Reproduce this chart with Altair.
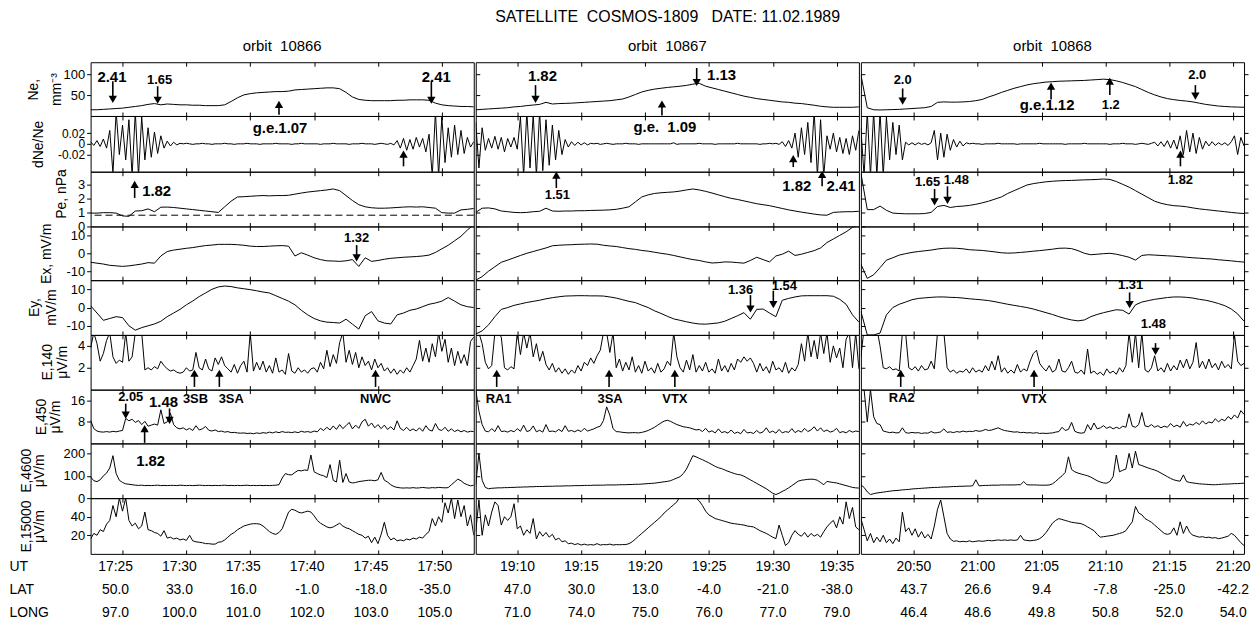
import altair as alt
import pandas as pd

FONT = "Liberation Sans"
NB = "\u00a0"

# ---------------- axes / labels ----------------
MAIN_TITLE = "SATELLITE" + NB + NB + "COSMOS-1809" + NB + NB + NB + "DATE: 11.02.1989"
ORBIT_TITLES = ["orbit" + NB + NB + "10866", "orbit" + NB + NB + "10867", "orbit" + NB + NB + "10868"]
T_START = [1042.5, 1146.73, 1250.85]     # minutes of day at left edge of each orbit window
SPAN = 30.0                               # minutes shown per orbit
TICK_MIN = [[1045, 1050, 1055, 1060, 1065, 1070],
            [1150, 1155, 1160, 1165, 1170, 1175],
            [1255, 1260, 1265, 1270, 1275, 1280]]
ROW_NAMES = ["UT", "LAT", "LONG"]
UT_LABELS = [["17:25", "17:30", "17:35", "17:40", "17:45", "17:50"],
             ["19:10", "19:15", "19:20", "19:25", "19:30", "19:35"],
             ["20:50", "21:00", "21:05", "21:10", "21:15", "21:20"]]
LAT_LABELS = [["50.0", "33.0", "16.0", "-1.0", "-18.0", "-35.0"],
              ["47.0", "30.0", "13.0", "-4.0", "-21.0", "-38.0"],
              ["43.7", "26.6", "9.4", "-7.8", "-25.0", "-42.2"]]
LONG_LABELS = [["97.0", "100.0", "101.0", "102.0", "103.0", "105.0"],
               ["71.0", "74.0", "75.0", "76.0", "77.0", "79.0"],
               ["46.4", "48.6", "49.8", "50.8", "52.0", "54.0"]]

# ---------------- series ----------------
NE_1 = [15,15,16,17,18,19,21,23,25,28, 30,27,29,28,27,27,26,26,25,25, 25,27,35,44,51,54,56,57,58,59,
        59,60,63,64,65,66,67,68,68,66, 57,46,40,38,37,37,37,37,38,38, 39,39,39,38,31,27,25,24,23,23, 22]
NE_2 = [15,16,17,18,19,20,22,23,25,26.5, 28,33,29,30,30.5,31,32,33,34,35, 36,37,39,41,46,52,58,62,65,67,
        69,70.5,72,74,77,79,72,68,64,60, 56,52,48,45,42,40,38,36,34,33, 31,30,28,26,23.5,22,21,21,21,21, 22]
NE_3 = [100,20,15,14.5,15,15.5,16,17,18,19, 20,23,33,34,33.5,33.5,34,35,37,40, 46,51,57,62,67,71,75,78,80,82,
        83,84,84.5,85,85.5,86,87,88,89,88, 85,81,76,71,64,57,51,46,42,39.5, 37.5,36,34,31,28,26,24,23,22,21.5, 21]

DNE_1 = [0.004,-0.003,0.006,-0.005,0.009,-0.008,
         0.025,-0.055,0.06,-0.02,0.035,-0.03,0.045,-0.06,0.06,-0.06,0.05,-0.03,0.03,-0.025,0.022,-0.018,
         0.015,-0.008,0.005,-0.004,0.003,-0.002,0.001,
         0,0.001,0,-0.001,0,0,0.001,0,0,-0.001, 0,0,0,0.001,0,0,-0.001,0,0,0,
         0.001,0,0,0,-0.001,0,0,0,0,0.001, 0,0,0,0,-0.001,0,0,0.001,0,0,
         0,0,0,-0.001,0,0,0,0.001,0,0, 0,0,-0.001,0,0,0,0.001,0,0,0, -0.001,0,0.001,0,-0.001,0.001,-0.002,
         0.006,-0.008,0.01,-0.012,0.008,-0.01,0.012,-0.006,0.01,-0.015,0.018,-0.06,0.06,-0.06,0.05,
         -0.035,0.03,-0.025,0.035,-0.02,0.025,-0.018,0.012,-0.006,0.004]
DNE_2 = [0.04,-0.045,0.03,
         -0.012,0.01,-0.008,0.014,-0.01,0.012,-0.015,0.01,-0.006,0.012,-0.01,
         0.05,-0.06,0.06,-0.045,0.055,-0.06,0.06,-0.05,0.045,-0.04,0.035,-0.03,0.025,-0.02,
         0.008,-0.006,0.004,-0.003,0.003,-0.002,0.002,-0.002,0.001,0,0.001,-0.001,0,0.001,0,-0.001,0,
         0,0,0.001,0,0,0,-0.001,0,0,0, 0,0,0,0,0,0,0,0.002,-0.001,0, 0,0,0,0,0,0.001,0,0,0,0,
         -0.001,0,0,0,0,0,0,0.001,0,0, 0,0,0,0,-0.001,0,0,0.001,0,0.001, -0.001,
         0.004,-0.005,0.006,-0.008,
         0.02,-0.025,0.03,-0.02,0.04,-0.035,0.06,-0.06,0.045,-0.06,
         0.015,-0.01,0.02,-0.015,0.012,-0.018,0.01,-0.02,0.015,-0.012,0.025]
DNE_3 = [0.03,-0.06,0.06,-0.06,0.06,-0.06,0.06,-0.06,0.05,
         -0.03,0.04,-0.02,0.035,-0.03,
         0.003,-0.002,0.002,-0.002,0.002,-0.001,0.001,-0.002,0.002,
         0.025,-0.03,0.02,-0.025,0.018,-0.012,
         0.008,-0.006,0.005,-0.004,0.002,
         0,0.001,0,0,-0.001,0,0,0,0,0.001, 0,0,0,0,0,-0.001,0,0,0,0, 0,0,0.001,0,0,0,0,0,0,0,
         -0.001,0,0,0,0,0,0.001,0,0,0, 0,0,0,0,-0.001,0,0,0,0.001,0, 0,0,-0.001,0,0.001,0,-0.001,0.001,
         0.003,-0.004,0.004,-0.005,0.006,-0.008,0.007,-0.01,
         0.015,-0.02,0.025,-0.015,0.02,-0.018,0.012,-0.01,
         0.005,-0.004,0.004,-0.003,0.002,-0.002,0.002,-0.003,0.004,
         0.015,-0.02,0.012,-0.004]

PE_1 = [0.95,0.95,0.98,0.98,0.95,0.75,0.72,1.1,1.12,1.25, 1.05,1.37,1.38,1.35,1.3,1.25,1.2,1.15,1.1,1.05,
        1.0,1.4,1.8,2.1,2.12,2.15,2.18,2.2,2.18,2.2, 2.2,2.22,2.3,2.38,2.45,2.5,2.55,2.6,2.67,2.55,
        2.2,1.85,1.55,1.4,1.33,1.3,1.3,1.32,1.35,1.38, 1.4,1.38,1.4,1.35,1.3,0.98,0.95,0.95,1.18,1.22, 1.28]
PE_2 = [1.0,1.3,1.32,1.25,1.1,1.05,1.0,0.98,1.0,1.05, 1.08,1.3,1.1,1.08,1.1,1.1,1.12,1.12,1.14,1.15,
        1.16,1.18,1.22,1.3,1.4,1.75,2.1,2.25,2.35,2.4, 2.43,2.46,2.52,2.6,2.67,2.6,2.5,2.38,2.25,2.12,
        2.0,1.92,1.82,1.72,1.62,1.55,1.48,1.38,1.28,1.18, 1.1,1.02,0.95,0.88,0.82,0.8,1.0,1.03,1.05,1.05, 1.08]
PE_3 = [3.8,1.2,1.2,1.45,1.15,0.95,0.92,0.9,0.9,0.9, 0.92,1.0,1.42,1.5,1.35,1.42,1.45,1.5,1.58,1.68,
        1.8,1.95,2.1,2.35,2.55,2.75,2.95,3.05,3.12,3.18, 3.22,3.25,3.27,3.28,3.3,3.32,3.33,3.35,3.38,3.35,
        3.2,3.0,2.8,2.55,2.3,2.05,1.8,1.65,1.55,1.48, 1.45,1.4,1.32,1.25,1.2,1.15,1.1,1.05,1.0,0.95, 0.92]
PE_DASH = [0.8]

EX_1 = [-5,-5.5,-6,-6.7,-7,-7.3,-7,-6.5,-6,-5.2, -5.5,-1.5,1,1.8,2.3,2.8,3.2,3.8,4.3,4.6,
        5,5,5,4.8,4.5,4,3.8,3.8,4,4.2, 4.3,4,-1.5,0.3,-1,-2.5,-3.5,-4.2,-4.3,-4.5,
        -4.2,-3.5,-7.3,-2.5,-4.5,-4,-3.3,-2.8,-2.5,-2.2, -2,-1.8,-1.5,-1,0.5,2.5,4.5,7,9.5,13, 16]
EX_2 = [-15,-13,-10,-7.5,-5,-3.8,-2.5,-1.2,0,1, 2,3,4.2,4.5,4.7,4.8,5,5.1,5.2,5.1,
        4.5,4.1,3.8,3.2,2.6,2.2,1.6,1.2,0.6,0, -0.5,-1.2,-2,-2.8,-3.5,-4,-4.8,-5.4,-5.2,-4.8,
        -4.9,-5.2,-5.5,-4,-2.2,-3.5,-4.8,-1.5,-0.5,1.2, -1.2,-0.5,0.5,1.5,3,6,8,10,12,14.5, 16]
EX_3 = [-6,-14,-12,-8,-3.8,-2.5,-1,-0.2,0.5,1.0, 1.4,1.8,2.4,2.8,2.9,2.8,2.5,2,1.8,1.6,
        1.2,0.8,0.3,0.1,0.2,0.5,0.8,1.2,1.5,1.9, 2.3,2.8,2.9,2.6,1.5,0,-0.8,-0.5,-0.2,0,
        -0.5,-1.3,-2.2,-3.8,-1.2,-0.8,-1,-1.2,-1.4,-1.6, -1.9,-2.2,-2.5,-2.7,-3,-3.2,-3.6,-3.9,-4.2,-4.6, -4.9]

EY_1 = [1,-3,-7,-6,-5,-5.5,-10,-12.4,-11,-10, -9,-7.5,-5,-3,-1,1.5,3.6,6,8,10,
        11.3,11.8,11.5,10.8,10.3,9.8,9.2,8.5,8,6.5, 5,3.5,1.5,-1.5,-4,-6,-7.3,-8,-8.2,-8.5,
        -6.4,-9.1,-11.8,-4.5,-2.2,-7.3,-8.5,-9,-4,-3, -1.5,-0.8,0.5,1.8,2.5,3.5,5.5,3.5,1.5,0.5, 0]
EY_2 = [-14.5,-12.8,-9.5,-5,-1,0,1.2,2,2.8,3.4, 4,4.8,5.4,5.9,6.3,6.4,6.5,6.5,6.4,6.4,
        6.3,5.8,5.2,4.3,3.4,2.7,1.3,0,-1.8,-3.2, -4.8,-6.2,-7,-7.8,-8.5,-9,-9.1,-8.8,-8.4,-7.5,
        -6,-4.5,-2.8,-6.4,-1,-0.8,-3,-5,4,5, 5.8,6.4,6.5,6.5,6.5,6.5,6.2,4.5,1.8,-4, -8]
EY_3 = [-2,-15,-15,-14,-4,0,1.8,3,4.3,5, 5.3,5.6,5.8,5.8,5.6,5.5,5.2,4.8,4.5,4.2,
        3.8,3.2,2.5,1.8,1.2,0.6,0,-0.8,-1.8,-2.8, -3.8,-5,-6,-6.8,-7.3,-6.8,-5,-3.8,-2.8,-2,
        -1.2,-1.5,-3.6,1.5,3,3.8,4.5,5,5.5,5.8, 5.8,5.6,5.2,4.5,4,3.2,2.2,1,-0.8,-3.5, -7.5]

E140_1 = [3.8,5.2,4.2,2.6,3.3,4.5,5.2,3.0,2.4,2.7, 2.5,5.2,2.6,3.0,5.2,5.2,5.2,1.8,2.0,1.8,
          2.1,1.9,2.6,2.2,1.9,1.7,1.8,1.6,1.5,1.6, 2.0,1.7,1.8,3.4,2.0,1.8,2.8,1.9,1.7,2.9,
          2.3,3.0,2.2,1.9,1.6,2.3,1.5,2.2,2.6,1.6, 5.2,1.7,2.5,1.8,2.6,1.6,2.2,1.5,2.9,1.6,
          1.8,1.4,3.3,1.7,1.5,2.0,1.6,1.8,1.5,1.9, 2.0,1.6,2.5,1.9,3.6,2.1,3.2,2.4,4.3,5.2,
          2.5,3.6,2.3,3.4,2.0,3.0,2.2,2.6,1.8,2.8, 2.0,2.4,1.7,2.0,1.5,1.9,1.4,1.8,1.5,2.0,
          1.6,2.2,2.8,4.5,2.6,3.8,2.5,4.2,3.0,5.2, 3.5,4.6,2.5,3.8,2.2,3.5,2.4,3.2,2.2,4.4, 4.8]
E140_2 = [5.2,5.2,4.2,2.5,1.9,2.2,5.2,5.2,4.8,2.0, 1.8,2.1,1.9,5.2,3.2,5.2,3.8,5.2,3.0,4.2,
          2.6,3.5,2.3,1.8,2.4,1.6,2.0,1.5,1.9,1.4, 1.8,1.5,2.2,1.7,2.5,2.2,2.9,2.4,3.1,3.6,
          5.2,5.2,3.4,5.2,2.0,2.8,1.7,2.5,1.8,3.0, 1.6,2.2,1.5,2.6,1.7,2.0,1.5,2.4,1.6,1.9,
          2.6,2.2,5.2,3.0,2.0,1.6,2.7,1.8,3.2,1.6, 2.2,1.7,2.5,1.6,1.9,1.5,2.8,1.7,2.2,1.6,
          2.4,1.8,2.8,2.5,3.0,2.6,2.9,2.4,1.6,2.4, 1.7,2.1,1.5,2.6,1.8,2.0,1.6,2.5,1.5,2.0,
          1.7,2.3,4.2,2.6,5.2,3.0,4.5,2.8,5.2,3.3, 5.2,2.5,4.0,2.9,3.8,2.0,4.6,5.2,2.0,5.2, 1.9]
E140_3 = [3.0,5.6,5.6,5.6,5.6,5.6,4.0,2.0,1.9,2.1, 1.8,1.9,1.7,5.2,5.2,2.0,1.8,2.1,1.7,2.2,
          1.8,1.9,2.6,1.9,5.2,5.2,5.2,2.0,1.6,1.8, 1.5,1.7,1.6,1.9,1.5,2.0,1.6,1.8,1.6,2.2,
          1.7,2.6,1.8,3.1,1.6,2.0,1.5,1.8,1.5,2.3, 1.6,1.9,1.7,2.6,3.3,3.6,2.4,2.0,1.7,2.2,
          1.6,1.8,2.8,1.7,1.6,2.0,2.6,1.6,1.5,1.8, 1.4,3.7,1.5,1.7,1.4,1.6,1.3,1.9,1.5,1.7,
          1.4,2.0,1.6,2.2,5.2,2.5,5.2,2.0,5.2,1.8, 1.6,2.0,3.1,1.7,2.0,1.6,2.4,1.7,2.2,1.8,
          2.7,2.0,2.8,1.9,2.5,4.3,2.0,2.6,1.9,2.8, 2.0,2.4,1.8,2.6,2.0,2.3,1.9,5.0,2.6,2.2, 2.4]

E450_1 = [8.6,5.5,4.6,4.3,4.2,4.4,4.2,4.5,4.3,4.6, 4.8,9.3,8.4,9.0,7.8,8.5,7.0,8.2,6.4,6.8,
          7.2,6.8,12.5,7.4,8.0,11.2,7.0,5.8,5.4,5.8, 5.0,5.6,4.8,6.6,5.0,5.4,6.3,4.9,4.6,5.0,
          4.4,4.6,4.2,4.4,4.0,4.1,3.9,3.8,3.9,3.7, 3.8,3.6,3.9,3.7,4.0,3.8,4.2,3.9,4.3,4.0,
          4.4,4.1,4.2,4.0,4.3,4.0,4.5,4.2,4.4,4.1, 4.6,4.3,5.6,4.8,6.0,5.0,6.5,5.2,7.0,5.5,
          6.6,7.8,5.4,6.8,5.6,8.0,9.0,6.4,7.6,5.8, 7.0,5.5,6.8,5.2,6.2,5.0,8.4,5.6,4.8,6.0,
          4.7,5.4,4.6,5.8,4.5,6.6,5.0,4.6,7.4,5.2, 4.8,6.0,4.5,5.4,4.4,5.0,4.3,4.8,4.2,4.5, 4.4]
E450_2 = [20,12,7.0,4.6,4.3,5.5,4.4,6.6,4.4,4.6, 4.2,4.8,4.3,5.5,4.5,6.8,4.4,4.8,6.5,4.3,
          4.9,4.2,7.0,4.4,4.6,4.3,5.2,4.4,6.6,4.5, 4.8,4.3,5.0,4.4,5.6,4.6,5.0,5.4,6.0,6.4,
          8.5,13.6,10.5,5.5,4.4,4.3,4.1,4.0,3.9,4.0, 4.0,3.9,4.1,4.4,4.8,5.4,6.0,6.8,7.6,8.3,
          8.6,8.2,7.6,7.0,6.6,6.2,6.0,5.8,5.4,5.0, 5.2,4.4,5.6,4.2,4.7,3.9,5.4,4.0,4.4,3.8,
          5.0,3.7,4.2,3.6,5.2,3.9,4.1,3.7,4.8,3.8, 4.3,5.8,4.0,4.6,3.8,5.2,3.9,4.4,4.1,5.5,
          4.0,4.8,4.2,5.6,4.4,5.0,6.2,4.6,5.8,4.4, 5.0,4.2,4.6,5.6,4.0,4.4,3.9,4.8,4.2,4.6, 4.4]
E450_3 = [20,20,8,20,9.9,7.4,7.0,4.6,4.3,4.0, 4.2,3.9,4.0,5.8,4.0,3.8,4.1,3.9,4.0,3.7,
          3.9,3.8,4.4,3.9,4.0,4.3,5.4,4.1,4.3,4.0, 4.4,4.2,4.6,4.3,4.5,4.4,4.8,4.5,4.7,5.2,
          4.8,5.0,5.4,5.8,5.2,4.8,4.6,4.4,4.2,4.3, 4.0,4.1,3.9,4.0,3.8,4.0,3.7,3.8,3.7,3.8,
          3.9,4.2,4.4,6.0,4.8,5.2,7.8,4.5,4.0,3.8, 4.0,7.0,5.0,7.6,5.4,5.8,6.6,5.6,6.2,5.4,
          6.0,5.5,6.4,6.0,11.0,6.4,6.0,7.0,11.5,6.5, 6.2,7.0,6.0,6.6,5.8,6.4,6.0,7.4,6.2,6.8,
          6.0,8.2,6.4,7.2,6.8,7.8,7.0,8.4,7.2,8.0, 7.6,9.2,8.0,9.0,8.4,10.0,9.0,10.6,9.4,12.2, 10.8]

E4600_1 = [95,78,74,82,100,112,135,190,110,80,70,64,62,60,
           58,57,58,56,57,56,57,58,56,57, 56,57,57,56,58,57,56,57,56,57, 58,57,56,57,56,57,56,57,58,56,
           57,56,57,56,57,58,56,57,56,57, 56,57,56,57,58,60,
           90,110,105,104,115,124,122,126,124,193,118,110,104,100,
           92,150,80,72,170,70,110,72,68,70, 74,76,78,80,80,78,82,115,80,72,
           60,52,48,46,45,46,45,47,45,46, 48,46,45,47,46,48,47,46,47,60, 72,85,78,66,60,55,58]
E4600_2 = [60,200,80,48,42,44,45,46,46,47, 47,48,48,49,49,50,50,51,51,52, 52,52,53,53,53,54,54,54,55,55,
           55,56,56,56,57,57,57,58,58,58, 58,59,59,59,59,60,60,60,61,61, 62,62,63,64,65,66,67,69,71,73,
           75,78,84,90,96,110,130,160,190,185, 178,172,165,158,150,142,136,132,126,120,
           115,110,106,104,98,90,82,74,66,58, 50,42,32,22,16,22,30,37,46,56,
           66,76,80,82,84,85,84,80,70,60, 75,72,70,68,64,60,56,52,48,46, 45]
E4600_3 = [60,48,28,16,20,23,25,27,29,31, 33,34,35,37,38,39,41,42,43,44, 45,46,47,48,48,49,50,50,51,52,
           52,53,53,54,54,55,82,55,56,57, 57,58,58,58,59,59,59,59,59,60, 60,74,60,59,59,59,58,58,58,59,
           64,75,88,100,115,185,128,118,112,108, 104,100,94,86,78,72,68,67,75,96,
           193,118,125,130,200,135,210,150,146,140, 135,130,126,120,112,104,96,88,82,78,
           76,104,74,70,68,66,64,63,62,61, 60,60,61,62,63,63,64,65,65,66, 67]

E15000_1 = [16,22,20,26,24,32,36,52,40,60, 46,60,36,30,33,27,30,45,26,25, 23,22,19,25,17,18,16,17,15,16,
            14.5,20,14,13,12.5,12,11,11,10.5,10.5, 12.5,13,15,18,21,23,26,28,30,31,
            32,32.5,32.5,32,30,27,24,22,21,23,
            27,36,45,48,47,45,44,45,46,45, 41,36,33,31,29,28,29,31,33,30, 28,27,25,23,21,20,17,19,12,18,
            11,21,34,20,15,17,14,15,14,16, 15,17,16,18,17,21,24,38,30,40, 34,55,44,60,38,58,40,52,30,42, 20]
E15000_2 = [24,58,20,42,30,45,56,52,31,40, 36,40,54,27,30,20,26,22,38,16, 24,19,23,18,21,15,17,13,14,11,
            11.5,10,11,9.5,10.5,9.5,10,9.5,11,9.5, 10,9.8,10.5,9.5,10,9.8,10,10,11,13,
            16,19,22,25,28,31,34,37,40,44, 47,50,53,56,62,64,65,64,62,60, 57,52,46,42,40,38,37,36,35,34,
            33,32.5,32,31.5,31,30,29.5,29,27,25, 23.5,22,20,18,16.4,31,20,9,12,20,
            25,21,19,23,18,22,19,21,18,24, 29,33,36,28,40,32,56,38,50,29, 26]
E15000_3 = [38,26,14,22,12,18,13,20,12,16, 11,17,13,45,24,28,20,27,18,24, 17,21,16,30,48,58,40,22,16,13.5,
            14,13,13.5,13,14,13,13.5,14,13.5,14, 14.5,14,14.5,15,14.5,15,14.5,15,14.5,15,
            20,15,14.5,14,14.5,15,16.4,19,23,28, 33,36,38,37,36,35,34,33.5,33,32.5, 31,29,27,25,21,18,18.5,19,19.5,20,
            21,22,23,25,30,34.5,51,44,42,38, 36,34,31,28,25,22,21,22,28,20,
            34.5,22,30,23,20,19,18,18.5,17.5,18, 17,17.5,16.4,17,18,19,22,20,16,12, 9]

# ---------------- annotations: (orbit, panel, minute, tail value, tip value) ----------------
ARROWS = [
    (0, "ne", 1044.24, 84, 40), (0, "ne", 1047.75, 72, 38), (0, "ne", 1069.18, 84, 38), (0, "ne", 1057.25, 3, 28),
    (0, "dne", 1067.0, -0.042, -0.019), (0, "pe", 1045.95, 2.03, 3.0), (0, "ex", 1063.33, 4.6, -2.5),
    (0, "e140", 1050.63, 0.25, 1.5), (0, "e140", 1052.58, 0.25, 1.5), (0, "e140", 1064.81, 0.25, 1.5),
    (0, "e450", 1045.25, 14.8, 10.5), (0, "e450", 1048.68, 13.0, 8.6), (0, "e450", 1046.73, 0.2, 5.5),
    (1, "ne", 1151.41, 74.6, 40), (1, "ne", 1164.03, 116, 81), (1, "ne", 1161.31, 1, 29),
    (1, "dne", 1171.59, -0.0433, -0.0275), (1, "pe", 1153.04, 2.74, 3.65), (1, "pe", 1173.85, 2.86, 3.7),
    (1, "ey", 1168.24, 6.8, -0.8), (1, "ey", 1170.03, 9.2, 1.6),
    (1, "e140", 1148.37, 0.25, 1.5), (1, "e140", 1157.17, 0.25, 1.5), (1, "e140", 1162.32, 0.25, 1.5),
    (2, "ne", 1254.12, 66.6, 36), (2, "ne", 1277.04, 74.6, 48), (2, "ne", 1265.74, 40, 72),
    (2, "ne", 1270.34, 50.5, 84), (2, "dne", 1275.87, -0.042, -0.019),
    (2, "pe", 1256.62, 2.67, 1.75), (2, "pe", 1257.63, 2.86, 1.86), (2, "ey", 1271.89, 8.3, 1.6),
    (2, "e140", 1273.92, 4.25, 3.5), (2, "e140", 1253.97, 0.25, 1.5), (2, "e140", 1264.41, 0.25, 1.5),
]
# (orbit, panel, minute, value, text, font size)
LABELS = [
    (0, "ne", 1044.17, 95, "2.41", 15), (0, "ne", 1047.90, 88, "1.65", 13), (0, "ne", 1069.57, 95, "2.41", 15),
    (0, "dne", 1057.33, 0.029, "g.e.1.07", 15), (0, "pe", 1047.67, 2.5, "1.82", 15),
    (0, "ex", 1063.33, 8.7, "1.32", 13), (0, "e450", 1050.71, 16.7, "3SB", 13),
    (0, "e450", 1053.51, 16.7, "3SA", 13), (0, "e450", 1064.81, 16.5, "NWC", 13),
    (0, "e450", 1045.64, 17.3, "2.05", 13), (0, "e450", 1048.21, 15.4, "1.48", 15),
    (0, "e4600", 1047.2, 166, "1.82", 15),
    (1, "ne", 1151.95, 97, "1.82", 15), (1, "ne", 1165.98, 98.7, "1.13", 15),
    (1, "dne", 1161.54, 0.032, "g.e." + NB + NB + "1.09", 15), (1, "pe", 1153.12, 2.22, "1.51", 13),
    (1, "pe", 1171.87, 2.91, "1.82", 15), (1, "pe", 1175.33, 2.91, "2.41", 15),
    (1, "ey", 1167.46, 9.7, "1.36", 13), (1, "ey", 1170.89, 11.9, "1.54", 13),
    (1, "e450", 1148.52, 16.7, "RA1", 13), (1, "e450", 1157.25, 16.7, "3SA", 13), (1, "e450", 1162.32, 16.7, "VTX", 13),
    (2, "ne", 1254.12, 86.7, "2.0", 13), (2, "ne", 1277.19, 98.7, "2.0", 13),
    (2, "ne", 1265.43, 26.5, "g.e.1.12", 15), (2, "ne", 1270.41, 26.5, "1.2", 13),
    (2, "pe", 1256.07, 3.17, "1.65", 13), (2, "pe", 1258.33, 3.33, "1.48", 13), (2, "pe", 1275.87, 3.28, "1.82", 13),
    (2, "ey", 1271.97, 12.3, "1.31", 13), (2, "ey", 1273.75, -9.0, "1.48", 13),
    (2, "e450", 1254.05, 17.0, "RA2", 13), (2, "e450", 1264.41, 16.7, "VTX", 13),
]

LAB_INT = "datum.value < 0 ? '-' + format(-datum.value, 'd') : format(datum.value, 'd')"
LAB_DNE = "datum.value == 0 ? '0' : (datum.value < 0 ? '-' : '') + format(abs(datum.value), '.2f')"

PANELS = [
    dict(key="ne", data=[NE_1, NE_2, NE_3], dom=[0, 130], ticks=[50, 100], title=["Ne,", "mm⁻³"],
         tx=-57, ty=27, lh=23, lab=LAB_INT, h=54, fs=13),
    dict(key="dne", data=[DNE_1, DNE_2, DNE_3], dom=[-0.052, 0.052], ticks=[-0.02, 0, 0.02], title="dNe/Ne",
         tx=-52, ty=28, lh=16, lab=LAB_DNE, h=56, fs=12),
    dict(key="pe", data=[PE_1, PE_2, PE_3], dom=[0, 3.9], ticks=[0, 1, 2, 3], title="Pe, nPa",
         tx=-29, ty=22, lh=16, lab=LAB_INT, h=55, fs=13),
    dict(key="ex", data=[EX_1, EX_2, EX_3], dom=[-15, 15], ticks=[-10, 0, 10], title="Ex, mV/m",
         tx=-44, ty=27, lh=16, lab=LAB_INT, h=54, fs=13),
    dict(key="ey", data=[EY_1, EY_2, EY_3], dom=[-15, 15], ticks=[-10, 0, 10], title=["Ey,", "mV/m"],
         tx=-56, ty=27, lh=17, lab=LAB_INT, h=55, fs=13),
    dict(key="e140", data=[E140_1, E140_2, E140_3], dom=[0, 5], ticks=[2, 4], title=["E,140", "μV/m"],
         tx=-43, ty=27, lh=15, lab=LAB_INT, h=55, fs=13),
    dict(key="e450", data=[E450_1, E450_2, E450_3], dom=[0, 20], ticks=[8, 16], title=["E,450", "μV/m"],
         tx=-49, ty=27, lh=14, lab=LAB_INT, h=54, fs=13),
    dict(key="e4600", data=[E4600_1, E4600_2, E4600_3], dom=[0, 245], ticks=[0, 100, 200], title=["E,4600", "μV/m"],
         tx=-64, ty=27, lh=13, lab=LAB_INT, h=55, fs=13),
    dict(key="e15000", data=[E15000_1, E15000_2, E15000_3], dom=[0, 60], ticks=[20, 40], title=["E,15000", "μV/m"],
         tx=-64, ty=28, lh=13, lab=LAB_INT, h=56, fs=13),
]

W = 385


def x_scale(c):
    return alt.Scale(domain=[T_START[c], T_START[c] + SPAN], nice=False, zero=False)


def x_axis(c, orient):
    return alt.Axis(orient=orient, values=TICK_MIN[c], tickSize=4, offset=-4, labels=False,
                    domain=False, grid=False, title=None, tickColor="black", tickWidth=1)


def y_axis_main(spec, c):
    if c == 0:
        return alt.Axis(orient="left", values=spec["ticks"], tickSize=4, tickColor="black", tickWidth=1,
                        labelFont=FONT, labelFontSize=spec["fs"], labelColor="black", labelPadding=2,
                        labelOverlap=False, labelExpr=spec["lab"], domain=False, grid=False,
                        title=spec["title"], titleFont=FONT, titleFontSize=14, titleFontWeight="normal",
                        titleColor="black", titleAngle=270, titleAlign="center", titleBaseline="middle",
                        titleX=spec["tx"], titleY=spec["ty"], titleLineHeight=spec["lh"])
    return alt.Axis(orient="left", values=spec["ticks"], tickSize=4, offset=-4, tickColor="black",
                    labels=False, domain=False, grid=False, title=None)


def panel(r, c):
    spec = PANELS[r]
    vals = spec["data"][c]
    n = len(vals)
    df = pd.DataFrame({"t": [T_START[c] + SPAN * i / (n - 1) for i in range(n)], "v": vals})
    xs = x_scale(c)
    ys = alt.Scale(domain=spec["dom"], nice=False, zero=False)
    line = alt.Chart(df).mark_line(color="black", strokeWidth=1, clip=True).encode(
        x=alt.X("t:Q", scale=xs, axis=x_axis(c, "bottom")),
        y=alt.Y("v:Q", scale=ys, axis=y_axis_main(spec, c)))
    if c == 2:
        right_axis = alt.Axis(orient="right", values=spec["ticks"], tickSize=4, tickColor="black",
                              labels=False, domain=False, grid=False, title=None)
    else:
        right_axis = None
    ghost = alt.Chart(df).mark_line(strokeOpacity=0).encode(
        x=alt.X("t:Q", axis=x_axis(c, "top")),
        y=alt.Y("v:Q", axis=right_axis))
    layers = [line, ghost]
    if spec["key"] == "pe" and c == 0:
        ddf = pd.DataFrame({"v": PE_DASH})
        layers.append(alt.Chart(ddf).mark_rule(color="black", strokeWidth=1, strokeDash=[7, 4]).encode(
            y=alt.Y("v:Q", axis=None)))
    arr = [a for a in ARROWS if a[0] == c and a[1] == spec["key"]]
    if arr:
        adf = pd.DataFrame({"t": [a[2] for a in arr], "a": [a[3] for a in arr], "b": [a[4] for a in arr],
                            "dir": ["up" if a[4] > a[3] else "down" for a in arr]})
        layers.append(alt.Chart(adf).mark_rule(color="black", strokeWidth=1.6).encode(
            x=alt.X("t:Q", axis=None), y=alt.Y("a:Q", axis=None), y2="b:Q"))
        layers.append(alt.Chart(adf).mark_point(filled=True, color="black", opacity=1, size=70).encode(
            x=alt.X("t:Q", axis=None), y=alt.Y("b:Q", axis=None),
            shape=alt.Shape("dir:N", scale=alt.Scale(domain=["up", "down"], range=["triangle-up", "triangle-down"]),
                            legend=None)))
    lab = [l for l in LABELS if l[0] == c and l[1] == spec["key"]]
    if lab:
        ldf = pd.DataFrame({"t": [l[2] for l in lab], "v": [l[3] for l in lab], "txt": [l[4] for l in lab],
                            "s": [l[5] for l in lab]})
        layers.append(alt.Chart(ldf).mark_text(font=FONT, fontWeight="bold", color="black", align="center",
                                               baseline="middle").encode(
            x=alt.X("t:Q", axis=None), y=alt.Y("v:Q", axis=None), text="txt:N",
            size=alt.Size("s:Q", scale=None, legend=None)))
    ch = alt.layer(*layers).resolve_axis(x="independent", y="independent").properties(width=W, height=spec["h"])
    if r == 0:
        ch = ch.properties(title=alt.TitleParams(text=ORBIT_TITLES[c], font=FONT, fontSize=15,
                                                 fontWeight="normal", color="black", anchor="middle",
                                                 frame="group", offset=8))
    return ch


def text_rows(c):
    recs = []
    for k, t in enumerate(TICK_MIN[c]):
        recs.append({"t": t, "row": "UT", "txt": UT_LABELS[c][k]})
        recs.append({"t": t, "row": "LAT", "txt": LAT_LABELS[c][k]})
        recs.append({"t": t, "row": "LONG", "txt": LONG_LABELS[c][k]})
    df = pd.DataFrame(recs)
    if c == 0:
        yax = alt.Axis(orient="left", labelAlign="left", labelPadding=82, ticks=False, domain=False,
                       grid=False, title=None, labelFont=FONT, labelFontSize=14, labelColor="black")
        mk = alt.Chart(df).mark_text(font=FONT, fontSize=14, color="black", dx=-7)
    else:
        yax = None
        mk = alt.Chart(df).mark_text(font=FONT, fontSize=14, color="black")
    ch = mk.encode(
        x=alt.X("t:Q", scale=x_scale(c), axis=None),
        y=alt.Y("row:N", sort=ROW_NAMES, scale=alt.Scale(domain=ROW_NAMES, padding=0.55), axis=yax),
        text="txt:N")
    return ch.properties(width=W, height=72, view=alt.ViewBackground(stroke="transparent"))


columns = []
for c in range(3):
    rows = [panel(r, c) for r in range(len(PANELS))] + [text_rows(c)]
    columns.append(alt.vconcat(*rows, spacing=0, bounds="flush"))

chart = alt.hconcat(*columns, spacing=0).properties(
    title=alt.TitleParams(text=MAIN_TITLE, font=FONT, fontSize=16, fontWeight="normal", color="black",
                          anchor="middle", offset=13, dx=38),
    padding=0,
).configure_view(stroke="black", strokeWidth=1)

chart.save("out.html", embed_options={"renderer": "svg", "actions": False})
